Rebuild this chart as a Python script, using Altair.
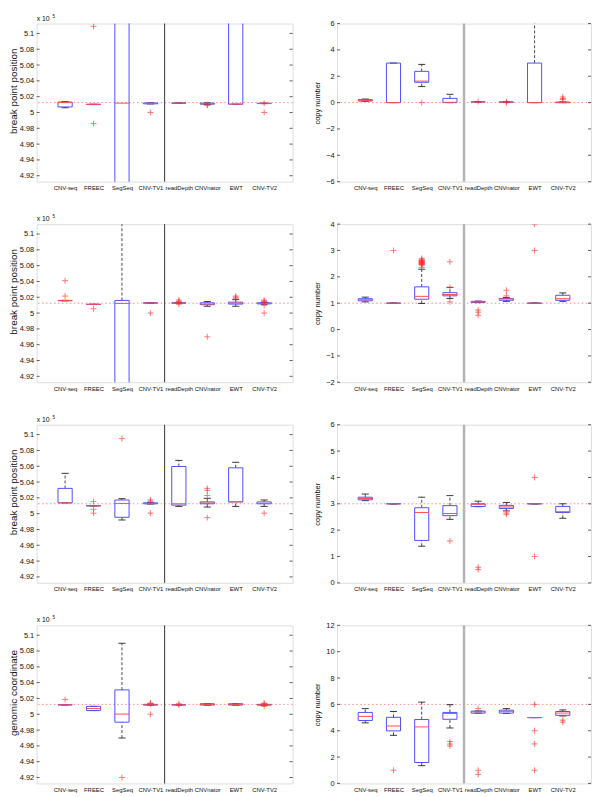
import altair as alt
import pandas as pd

FONT = "Liberation Sans"

methods = ["CNV-seq", "FREEC", "SegSeq", "CNV-TV1", "readDepth", "CNVnator", "EWT", "CNV-TV2"]
method_pos = [1, 2, 3, 4, 5, 6, 7, 8]
x_domain = [0, 9]
group_split = [4.5]

# ---- left column: break point position / genomic coordinate (x 10^5) ----
bp_domain = [4.9125, 5.1125]
bp_ticks = [4.92, 4.94, 4.96, 4.98, 5.0, 5.02, 5.04, 5.06, 5.08, 5.1]
bp_true = 5.0125

# Row 1 left
r1L_lo  = [5.0060, 5.0100, 4.8000, 5.0108, 5.0116, 5.0100, 5.0104, 5.0112]
r1L_q1  = [5.0070, 5.0100, 4.8500, 5.0110, 5.0117, 5.0105, 5.0105, 5.0113]
r1L_med = [5.0125, 5.0102, 5.0118, 5.0115, 5.0118, 5.0112, 5.0106, 5.0114]
r1L_q3  = [5.0132, 5.0104, 5.2000, 5.0120, 5.0119, 5.0118, 5.2500, 5.0116]
r1L_hi  = [5.0137, 5.0104, 5.2500, 5.0122, 5.0120, 5.0122, 5.3000, 5.0118]
r1L_out = [(2, 5.109), (2, 4.986), (4, 5.000), (6, 5.0092), (6, 5.0097),
           (8, 5.0117), (8, 5.000)]

# Row 2 left
r2L_lo  = [5.0155, 5.0108, 4.8500, 5.0126, 5.0125, 5.0086, 5.0086, 5.0112]
r2L_q1  = [5.0156, 5.0109, 4.8800, 5.0127, 5.0126, 5.0106, 5.0114, 5.0117]
r2L_med = [5.0158, 5.0110, 5.0122, 5.0128, 5.0128, 5.0114, 5.0125, 5.0121]
r2L_q3  = [5.0160, 5.0111, 5.0160, 5.0129, 5.0130, 5.0130, 5.0138, 5.0130]
r2L_hi  = [5.0161, 5.0112, 5.2000, 5.0130, 5.0131, 5.0146, 5.0170, 5.0134]
r2L_out = [(1, 5.041), (1, 5.0215), (2, 5.0055), (4, 5.000),
           (5, 5.0165), (5, 5.0148), (5, 5.0140), (5, 5.0112),
           (6, 4.970), (7, 5.0215), (7, 5.0200), (7, 5.0187),
           (8, 5.0163), (8, 5.0150), (8, 5.0140), (8, 5.0098), (8, 5.000)]

# Row 3 left
r3L_lo  = [5.0137, 5.0099, 4.9920, 5.0122, 5.0092, 5.0084, 5.0092, 5.0092]
r3L_q1  = [5.0137, 5.0099, 4.9954, 5.0125, 5.0108, 5.0125, 5.0149, 5.0125]
r3L_med = [5.0137, 5.0100, 5.0129, 5.0130, 5.0125, 5.0135, 5.0150, 5.0130]
r3L_q3  = [5.0320, 5.0101, 5.0173, 5.0137, 5.0597, 5.0149, 5.0580, 5.0149]
r3L_hi  = [5.0510, 5.0101, 5.0190, 5.0140, 5.0674, 5.0194, 5.0650, 5.0173]
r3L_out = [(2, 5.0153), (2, 5.0055), (2, 5.0006), (3, 5.095),
           (4, 5.0173), (4, 5.0157), (4, 5.0006),
           (6, 5.0320), (6, 5.0295), (6, 5.0230), (6, 4.9950), (8, 5.0006)]

# Row 4 left
r4L_lo  = [5.0119, 5.0047, 4.9700, 5.0115, 5.0119, 5.0116, 5.0116, 5.0115]
r4L_q1  = [5.0119, 5.0047, 4.9900, 5.0117, 5.0119, 5.0117, 5.0117, 5.0116]
r4L_med = [5.0120, 5.0072, 5.0002, 5.0120, 5.0120, 5.0125, 5.0125, 5.0120]
r4L_q3  = [5.0121, 5.0100, 5.0308, 5.0125, 5.0121, 5.0133, 5.0133, 5.0125]
r4L_hi  = [5.0121, 5.0100, 5.0898, 5.0127, 5.0121, 5.0133, 5.0133, 5.0127]
r4L_out = [(1, 5.0186), (3, 4.920), (4, 5.0141), (4, 5.0133), (4, 5.000),
           (5, 5.0133), (5, 5.0116), (8, 5.0141), (8, 5.0130), (8, 5.0100)]

# ---- right column: copy number ----
r1R_domain = [-6, 6]
r1R_ticks = [-6, -4, -2, 0, 2, 4, 6]
r1R_true = 0
r1R_lo  = [0.10, 0.00, 1.22, 0.00, 0.04, 0.02, 0.00, 0.00]
r1R_q1  = [0.12, 0.00, 1.54, 0.00, 0.05, 0.03, 0.00, 0.00]
r1R_med = [0.17, 0.00, 1.63, 0.02, 0.05, 0.04, 0.00, 0.00]
r1R_q3  = [0.22, 3.00, 2.37, 0.32, 0.06, 0.05, 3.00, 0.04]
r1R_hi  = [0.27, 3.00, 2.90, 0.63, 0.07, 0.06, 7.50, 0.05]
r1R_out = [(3, 0.0), (5, 0.08), (6, 0.07), (6, 0.0), (8, 0.42), (8, 0.30), (8, 0.25)]

r2R_domain = [-2, 4]
r2R_ticks = [-2, -1, 0, 1, 2, 3, 4]
r2R_true = 1
r2R_lo  = [1.05, 1.00, 0.99, 1.18, 1.02, 1.07, 1.00, 1.07]
r2R_q1  = [1.09, 1.00, 1.15, 1.28, 1.03, 1.11, 1.00, 1.11]
r2R_med = [1.13, 1.00, 1.26, 1.33, 1.05, 1.16, 1.00, 1.17]
r2R_q3  = [1.17, 1.00, 1.62, 1.40, 1.07, 1.18, 1.00, 1.30]
r2R_hi  = [1.23, 1.00, 2.29, 1.60, 1.08, 1.22, 1.00, 1.39]
r2R_out = [(2, 3.0), (3, 2.70), (3, 2.65), (3, 2.63), (3, 2.61), (3, 2.60), (3, 2.58),
           (3, 2.57), (3, 2.55), (3, 2.54), (3, 2.52), (3, 2.51), (3, 2.49), (3, 2.48),
           (3, 2.46), (3, 2.45), (3, 2.36), (4, 2.57), (4, 1.60), (4, 1.05),
           (5, 0.74), (5, 0.66), (5, 0.54), (6, 1.49), (6, 1.28), (7, 4.0), (7, 3.0)]

r3R_domain = [0, 6]
r3R_ticks = [0, 1, 2, 3, 4, 5, 6]
r3R_true = 3
r3R_lo  = [3.12, 3.00, 1.39, 2.41, 2.89, 2.73, 3.00, 2.45]
r3R_q1  = [3.15, 3.00, 1.61, 2.55, 2.90, 2.82, 3.00, 2.67]
r3R_med = [3.20, 3.00, 2.67, 2.63, 2.98, 2.88, 3.00, 2.70]
r3R_q3  = [3.25, 3.00, 2.85, 2.93, 3.00, 2.94, 3.00, 2.90]
r3R_hi  = [3.37, 3.00, 3.25, 3.31, 3.10, 3.05, 3.00, 3.00]
r3R_out = [(4, 1.59), (5, 0.59), (5, 0.50), (6, 2.65), (6, 2.60), (7, 4.0), (7, 1.0)]

r4R_domain = [0, 12]
r4R_ticks = [0, 2, 4, 6, 8, 10, 12]
r4R_true = 6
r4R_lo  = [4.60, 3.65, 1.35, 4.21, 5.33, 5.31, 5.00, 5.12]
r4R_q1  = [4.78, 3.99, 1.59, 4.87, 5.34, 5.34, 5.00, 5.17]
r4R_med = [5.09, 4.36, 4.29, 5.31, 5.44, 5.47, 5.00, 5.34]
r4R_q3  = [5.39, 5.02, 4.85, 5.39, 5.49, 5.56, 5.00, 5.46]
r4R_hi  = [5.68, 5.46, 6.17, 5.98, 5.50, 5.68, 5.00, 5.58]
r4R_out = [(2, 1.0), (4, 3.18), (4, 2.99), (4, 2.84), (5, 5.68), (5, 1.0), (5, 0.68),
           (7, 6.0), (7, 4.0), (7, 3.0), (7, 1.0), (8, 4.80), (8, 4.65)]

# ---- styling ----
BOX_C = "#4d4dff"
MED_C = "#ff4d4d"
OUT_C = "#ff2a2a"
REF_C = "#ff8a8a"
FRAME_C = "#333333"
PLUS = "M-1,0H1M0,-1V1"

PH = 160
WL = 259
WR = 257

label_expr = "[" + ",".join("'%s'" % m for m in methods) + "][datum.value - 1]"


def panel(lo, q1, med, q3, hi, out, domain, ticks, ref, title, width,
          fmt, split_color, split_width, ext, tpad, tsize, ty, x10):
    box = pd.DataFrame({"i": method_pos, "lo": lo, "q1": q1, "med": med, "q3": q3, "hi": hi})
    outdf = pd.DataFrame(out, columns=["i", "v"])
    xs = alt.Scale(domain=x_domain, nice=False, zero=False)
    ys = alt.Scale(domain=domain, nice=False, zero=False)
    xaxis = alt.Axis(values=method_pos, labelExpr=label_expr, ticks=False, domain=False,
                     grid=False, labelAngle=0, labelFontSize=6, labelPadding=3,
                     labelFont=FONT, labelColor="#111111", title=None)
    yargs = dict(values=ticks, ticks=False, domain=False, grid=False,
                 labelFontSize=7.5, labelPadding=3, labelFont=FONT, labelColor="#111111",
                 title=title, titleFont=FONT, titleFontSize=tsize, titleFontWeight="normal",
                 titleColor="#111111", titlePadding=tpad, minExtent=ext, maxExtent=ext,
                 titleY=ty)
    if fmt:
        yargs["labelExpr"] = fmt
    yaxis = alt.Axis(**yargs)

    def X(f):
        return alt.X(f, type="quantitative", scale=xs, axis=xaxis)

    def Y(f):
        return alt.Y(f, type="quantitative", scale=ys, axis=yaxis)

    base = alt.Chart(box).transform_calculate(
        bl="datum.i - 0.25", br="datum.i + 0.25",
        cl="datum.i - 0.125", cr="datum.i + 0.125")

    refline = alt.Chart(pd.DataFrame({"v": [ref]})).mark_rule(
        color=REF_C, strokeDash=[1.5, 2.5], strokeWidth=1).encode(y=Y("v"))
    split = alt.Chart(pd.DataFrame({"v": group_split})).mark_rule(
        color=split_color, strokeWidth=split_width).encode(x=X("v"))
    tickdf = pd.DataFrame({"v": ticks})
    tl = alt.Chart(tickdf).mark_rule(color=FRAME_C, strokeWidth=0.8).encode(
        y=Y("v"), x=alt.value(0), x2=alt.value(3))
    tr = alt.Chart(tickdf).mark_rule(color=FRAME_C, strokeWidth=0.8).encode(
        y=Y("v"), x=alt.value(width - 3), x2=alt.value(width))

    w_hi = base.mark_rule(color="#333333", strokeDash=[3, 2], strokeWidth=0.9, clip=True).encode(
        x=X("i"), y=Y("q3"), y2=alt.Y2("hi"))
    w_lo = base.mark_rule(color="#333333", strokeDash=[3, 2], strokeWidth=0.9, clip=True).encode(
        x=X("i"), y=Y("lo"), y2=alt.Y2("q1"))
    c_hi = base.mark_rule(color="#222222", strokeWidth=0.9, clip=True).encode(
        x=X("cl"), x2=alt.X2("cr"), y=Y("hi"))
    c_lo = base.mark_rule(color="#222222", strokeWidth=0.9, clip=True).encode(
        x=X("cl"), x2=alt.X2("cr"), y=Y("lo"))
    rect = base.mark_rect(fillOpacity=0, stroke=BOX_C, strokeWidth=1, clip=True).encode(
        x=X("bl"), x2=alt.X2("br"), y=Y("q1"), y2=alt.Y2("q3"))
    medl = base.mark_rule(color=MED_C, strokeWidth=1, clip=True).encode(
        x=X("bl"), x2=alt.X2("br"), y=Y("med"))
    pts = alt.Chart(outdf).mark_point(shape=PLUS, size=36, filled=False, stroke=OUT_C,
                                      strokeWidth=0.9, clip=True).encode(x=X("i"), y=Y("v"))

    layers = [refline, split, tl, tr, w_hi, w_lo, c_hi, c_lo, rect, medl, pts]
    if x10:
        t1 = alt.Chart(pd.DataFrame({"t": ["x 10"]})).mark_text(
            align="left", baseline="alphabetic", fontSize=7, font=FONT, color="#111111").encode(
            text="t:N", x=alt.value(0), y=alt.value(-3))
        t2 = alt.Chart(pd.DataFrame({"t": ["5"]})).mark_text(
            align="left", baseline="alphabetic", fontSize=4.5, font=FONT, color="#111111").encode(
            text="t:N", x=alt.value(16), y=alt.value(-6))
        layers += [t1, t2]
    return alt.layer(*layers).properties(width=width, height=PH)


bp_fmt = "format(datum.value, '.2~f')"

left_specs = [
    (r1L_lo, r1L_q1, r1L_med, r1L_q3, r1L_hi, r1L_out, "break point position"),
    (r2L_lo, r2L_q1, r2L_med, r2L_q3, r2L_hi, r2L_out, "break point position"),
    (r3L_lo, r3L_q1, r3L_med, r3L_q3, r3L_hi, r3L_out, "break point position"),
    (r4L_lo, r4L_q1, r4L_med, r4L_q3, r4L_hi, r4L_out, "genomic coordinate"),
]
right_specs = [
    (r1R_lo, r1R_q1, r1R_med, r1R_q3, r1R_hi, r1R_out, r1R_domain, r1R_ticks, r1R_true),
    (r2R_lo, r2R_q1, r2R_med, r2R_q3, r2R_hi, r2R_out, r2R_domain, r2R_ticks, r2R_true),
    (r3R_lo, r3R_q1, r3R_med, r3R_q3, r3R_hi, r3R_out, r3R_domain, r3R_ticks, r3R_true),
    (r4R_lo, r4R_q1, r4R_med, r4R_q3, r4R_hi, r4R_out, r4R_domain, r4R_ticks, r4R_true),
]

rows = []
for ls, rs in zip(left_specs, right_specs):
    lo, q1, med, q3, hi, out, title = ls
    left = panel(lo, q1, med, q3, hi, out, bp_domain, bp_ticks, bp_true, title, WL,
                 bp_fmt, "#333333", 1, 16, 2, 10, PH / 2 - 12, True)
    lo, q1, med, q3, hi, out, dom, tks, tru = rs
    right = panel(lo, q1, med, q3, hi, out, dom, tks, tru, "copy number", WR,
                  None, "#b3b3b3", 2.5, 12, 4, 7.5, PH / 2, False)
    rows.append(alt.hconcat(left, right, spacing=19))

chart = alt.vconcat(*rows, spacing=22).properties(padding=0).configure_view(
    stroke=FRAME_C, strokeWidth=1).configure(background="white")

chart.save("out.html", embed_options={"renderer": "svg", "actions": False})
